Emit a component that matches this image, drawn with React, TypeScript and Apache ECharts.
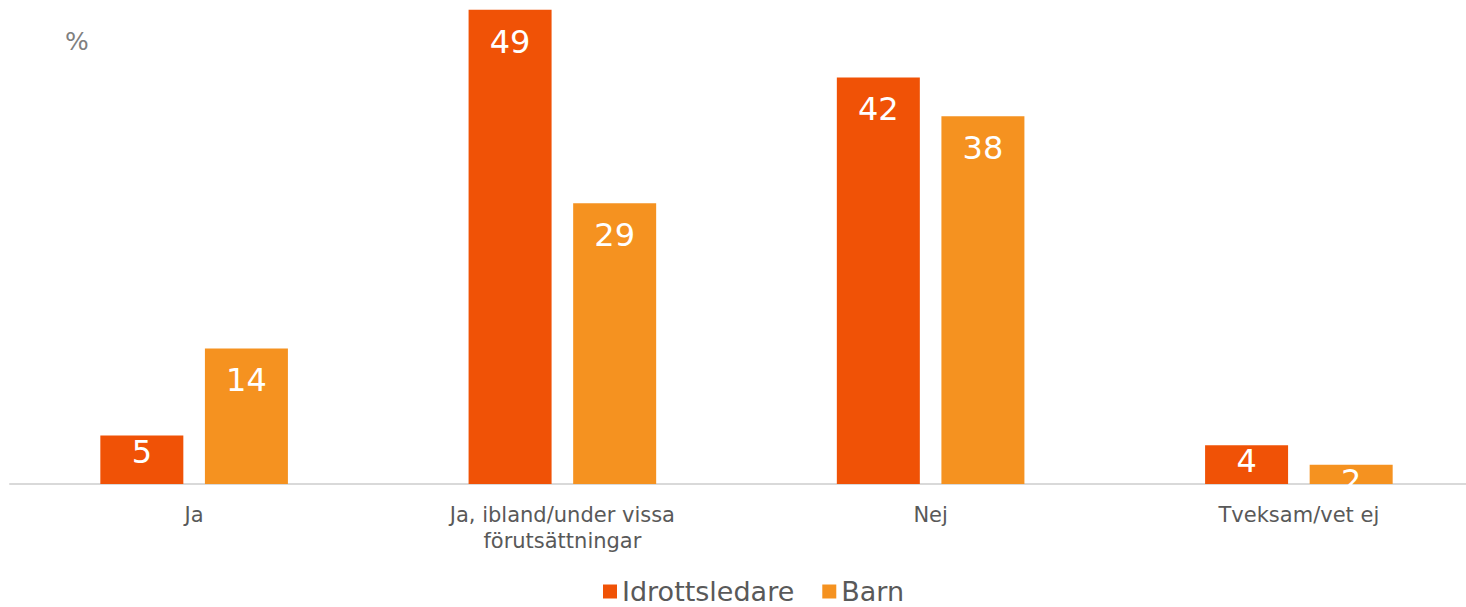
import React, { useEffect, useRef } from "react";
import * as echarts from "echarts";

const categories = ["Ja", "Ja, ibland/under vissa\nförutsättningar", "Nej", "Tveksam/vet ej"];
const idrottsledare = [5, 49, 42, 4];
const barn = [14, 29, 38, 2];
const seriesNames = ["Idrottsledare", "Barn"];
const colors = ["#F05206", "#F59220"];

export default function App() {
  const ref = useRef<HTMLDivElement>(null);
  useEffect(() => {
    if (!ref.current) return;
    const chart = echarts.init(ref.current, undefined, { renderer: "svg" });
    const font = "DejaVu Sans, Verdana, sans-serif";
    const label = {
      show: true,
      position: "insideTop",
      distance: 16,
      color: "#ffffff",
      fontSize: 32,
      fontFamily: font,
    };
    const toItems = (vals: number[]) =>
      vals.map((v) => ({ value: v, label: { distance: v >= 10 ? 16 : 0 } }));
    chart.setOption({
      animation: false,
      grid: { left: 10, right: 0, top: 0, bottom: 123, containLabel: false },
      graphic: [
        {
          type: "text",
          left: 65,
          top: 29,
          style: { text: "%", fontSize: 25, fill: "#7f7f7f", fontFamily: font },
        },
      ],
      legend: {
        bottom: -3,
        left: 598,
        itemWidth: 14,
        itemHeight: 14,
        itemGap: 28,
        icon: "rect",
        textStyle: { fontSize: 27, color: "#595959", fontFamily: font },
        data: seriesNames,
      },
      xAxis: {
        type: "category",
        data: categories,
        axisLine: { lineStyle: { color: "#d9d9d9", width: 2 } },
        axisTick: { show: false },
        axisLabel: {
          color: "#595959",
          fontSize: 21,
          fontFamily: font,
          margin: 18,
          lineHeight: 26,
          interval: 0,
        },
      },
      yAxis: {
        type: "value",
        min: 0,
        max: 50,
        show: false,
        splitLine: { show: false },
      },
      series: [
        {
          name: seriesNames[0],
          type: "bar",
          data: toItems(idrottsledare),
          barWidth: 83,
          barGap: "26%",
          itemStyle: { color: colors[0] },
          label,
        },
        {
          name: seriesNames[1],
          type: "bar",
          data: toItems(barn),
          barWidth: 83,
          barGap: "26%",
          itemStyle: { color: colors[1] },
          label,
        },
      ],
    });
    return () => chart.dispose();
  }, []);
  return (
    <div
      style={{
        position: "absolute",
        left: 0,
        top: 0,
        width: 1466,
        height: 607,
        overflow: "hidden",
      }}
    >
      <div ref={ref} style={{ width: 1483, height: 607 }} />
    </div>
  );
}
